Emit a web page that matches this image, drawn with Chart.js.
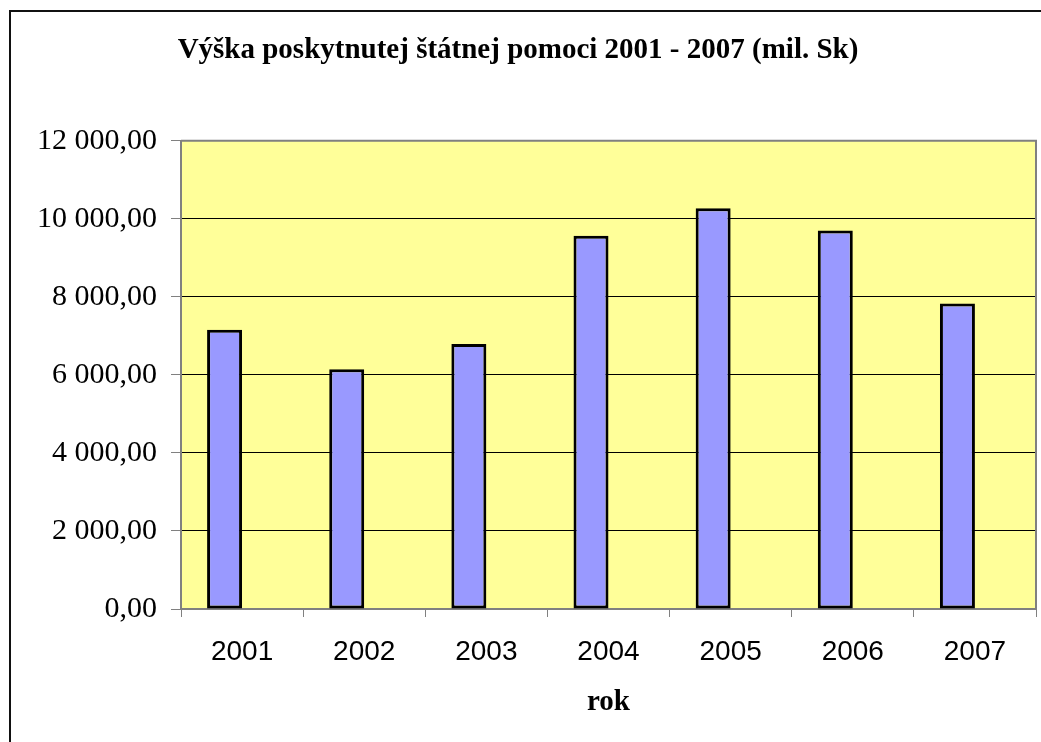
<!DOCTYPE html>
<html>
<head>
<meta charset="utf-8">
<script src="https://cdn.jsdelivr.net/npm/chart.js@4"></script>
<style>
  body { margin: 0; background: #fff; }
  #wrap { width: 1041px; height: 742px; }
</style>
</head>
<body>
<div id="wrap"><canvas id="chart" width="1041" height="742"></canvas></div>
<script>
const years = ["2001", "2002", "2003", "2004", "2005", "2006", "2007"];
const aidValues = [7154, 6146, 6795, 9564, 10274, 9700, 7829];
const emptySeries = [null, null, null, null, null, null, null];
const yTicks = [0, 2000, 4000, 6000, 8000, 10000, 12000];

const chartTitle = "Výška poskytnutej štátnej pomoci 2001 - 2007 (mil. Sk)";
const xTitle = "rok";

// "12 000,00" style
function skNumber(v) {
    const parts = v.toFixed(2).split(".");
    const whole = parts[0].replace(/\B(?=(\d{3})+(?!\d))/g, " ");
    return whole + "," + parts[1];
}

const frame = {
    id: "frame",
    beforeDraw(chart) {
        const { ctx, chartArea: a } = chart;
        ctx.save();
        ctx.fillStyle = "#ffff99";
        ctx.fillRect(a.left, a.top, a.right - a.left, a.bottom - a.top);
        ctx.restore();
    },
    afterDraw(chart) {
        const { ctx, chartArea: a } = chart;
        ctx.save();
        ctx.strokeStyle = "#808080";
        ctx.lineWidth = 2;
        ctx.beginPath();
        ctx.moveTo(a.left, a.top);
        ctx.lineTo(a.right, a.top);
        ctx.lineTo(a.right, a.bottom);
        ctx.stroke();
        // outer chart border, runs off the right and bottom
        ctx.strokeStyle = "#111";
        ctx.strokeRect(10, 11, 1200, 900);
        ctx.restore();
    },
};

const ctx = document.getElementById("chart").getContext("2d");
new Chart(ctx, {
    type: "bar",
    data: {
        labels: years,
        datasets: [
            {
                label: "pomoc",
                data: aidValues,
                backgroundColor: "#9999ff",
                borderColor: "#000000",
                borderWidth: 3,
                borderSkipped: false,
            },
            {
                label: "",
                data: emptySeries,
            },
        ],
    },
    options: {
        responsive: false,
        devicePixelRatio: 1,
        animation: false,
        categoryPercentage: 0.573,
        barPercentage: 1,
        layout: { padding: { left: 0, right: 5, top: 0, bottom: 0 } },
        plugins: {
            legend: { display: false },
            tooltip: { enabled: false },
            title: {
                display: true,
                text: chartTitle,
                color: "#000",
                font: { family: "Liberation Serif", size: 29, weight: "bold" },
                padding: { top: 33, bottom: 73 },
            },
        },
        scales: {
            x: {
                grid: {
                    drawOnChartArea: false,
                    tickLength: 8,
                    tickColor: "#808080",
                    tickWidth: 1,
                },
                border: { color: "#808080", width: 2 },
                ticks: {
                    color: "#000",
                    font: { family: "Liberation Sans", size: 28 },
                    padding: 18,
                    maxRotation: 0,
                },
                title: {
                    display: true,
                    text: xTitle,
                    color: "#000",
                    font: { family: "Liberation Serif", size: 29, weight: "bold" },
                    padding: { top: 0, bottom: 22 },
                },
                afterFit(scale) { scale.height = 133; },
            },
            y: {
                min: 0,
                max: 12000,
                afterBuildTicks(scale) { scale.ticks = yTicks.map(v => ({ value: v })); },
                grid: {
                    color: "#000",
                    lineWidth: 1,
                    tickLength: 10,
                    tickColor: "#808080",
                },
                border: { color: "#808080", width: 2 },
                ticks: {
                    color: "#000",
                    font: { family: "Liberation Serif", size: 30 },
                    padding: 14,
                    callback: v => skNumber(v),
                },
                afterFit(scale) { scale.width = 181; },
            },
        },
    },
    plugins: [frame],
});
</script>
</body>
</html>
